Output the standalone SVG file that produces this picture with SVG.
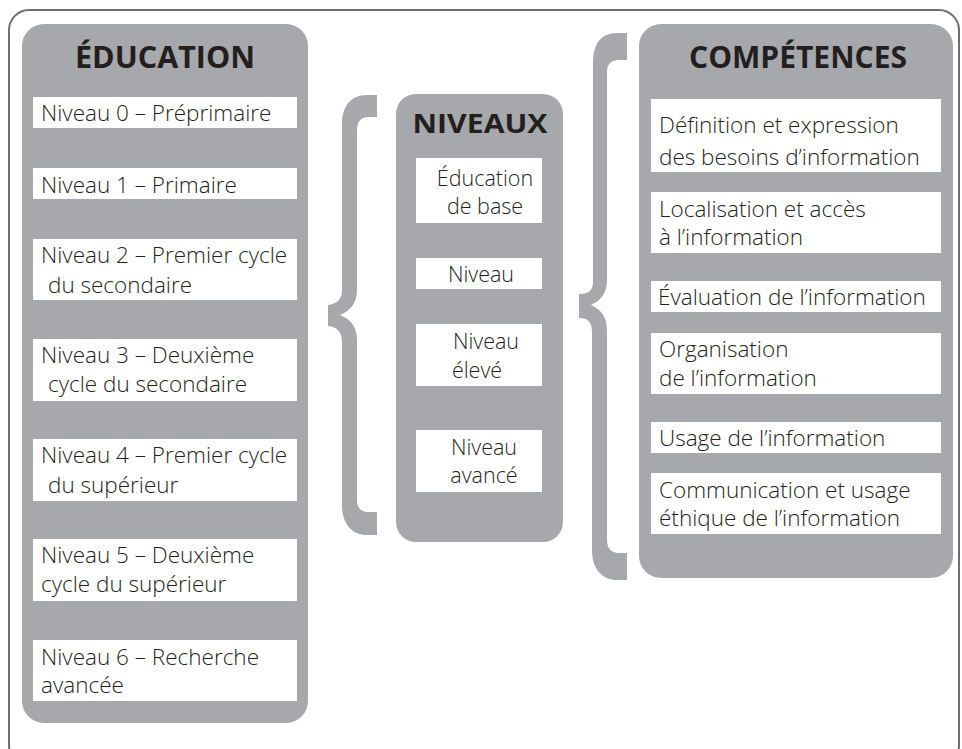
<svg xmlns="http://www.w3.org/2000/svg" width="962" height="749" viewBox="0 0 962 749">
<style>
.panel{fill:#a7a8ab}
.box{fill:#ffffff}
.brace{fill:#a7a8ab}
.t{font-family:"Open Sans","Liberation Sans",sans-serif;font-size:22.5px;font-weight:300;fill:#231f20}
.n{font-size:21.5px}
.h{font-family:"Open Sans","Liberation Sans",sans-serif;font-weight:bold;fill:#231f20;text-anchor:middle}
.c{text-anchor:middle}
</style>
<rect x="9" y="10" width="950" height="755" rx="20" ry="20" fill="#ffffff" stroke="#6d6e71" stroke-width="2"/>
<g id="education">
<rect class="panel" x="22" y="24" width="286" height="699" rx="22" ry="22"/>
<text class="h" x="165" y="68" font-size="30.5">ÉDUCATION</text>
<rect class="box" x="33" y="97" width="264" height="31"/>
<text class="t" x="41" y="121">Niveau 0 – Préprimaire</text>
<rect class="box" x="33" y="168" width="264" height="31"/>
<text class="t" x="41" y="193">Niveau 1 – Primaire</text>
<rect class="box" x="33" y="239" width="264" height="61"/>
<text class="t" x="41" y="263">Niveau 2 – Premier cycle</text>
<text class="t" x="48" y="293">du secondaire</text>
<rect class="box" x="33" y="339" width="264" height="62"/>
<text class="t" x="41" y="363">Niveau 3 – Deuxième</text>
<text class="t" x="48" y="392">cycle du secondaire</text>
<rect class="box" x="33" y="439" width="264" height="62"/>
<text class="t" x="41" y="463">Niveau 4 – Premier cycle</text>
<text class="t" x="48" y="493">du supérieur</text>
<rect class="box" x="33" y="539" width="264" height="62"/>
<text class="t" x="41" y="563">Niveau 5 – Deuxième</text>
<text class="t" x="41" y="592">cycle du supérieur</text>
<rect class="box" x="33" y="640" width="264" height="61"/>
<text class="t" x="41" y="665">Niveau 6 – Recherche</text>
<text class="t" x="41" y="693">avancée</text>
</g>
<g id="connectors">
<path class="brace" d="M377,95 L367,95 C351,95 342,106 342,124 L342,290 C342,299 337,304 328,305 L328,326 C337,327 342,332 342,342 L342,505 C342,524 352,535 367,535 L377,535 L377,512 L368,512 C361,512 357,508 357,500 L357,340 C357,326 350,319 340,315 C350,311 357,303 357,290 L357,130 C357,122 361,117 368,117 L377,117 Z"/>
<path class="brace" d="M627,33 L617,33 C601,33 593,44 593,62 L593,282 C593,291 588,294 579,294 L579,318 C588,318 592,322 592,332 L592,550 C592,570 603,580 617,580 L627,580 L627,553 L619,553 C611,553 607,548 607,540 L607,330 C607,316 600,309 591,305 C600,301 607,294 607,280 L607,72 C607,64 611,60 619,60 L627,60 Z"/>
</g>
<g id="niveaux">
<rect class="panel" x="396" y="94" width="167" height="448" rx="20" ry="20"/>
<text class="h" x="480" y="133" font-size="27" textLength="135" lengthAdjust="spacingAndGlyphs">NIVEAUX</text>
<rect class="box" x="416" y="158" width="126" height="65"/>
<text class="t n c" x="485" y="186">Éducation</text>
<text class="t n c" x="485" y="214">de base</text>
<rect class="box" x="416" y="258" width="126" height="31"/>
<text class="t n c" x="481" y="282">Niveau</text>
<rect class="box" x="416" y="324" width="126" height="62"/>
<text class="t n c" x="486" y="349">Niveau</text>
<text class="t n c" x="477" y="378">élevé</text>
<rect class="box" x="416" y="430" width="126" height="62"/>
<text class="t n c" x="484" y="455">Niveau</text>
<text class="t n c" x="484" y="483">avancé</text>
</g>
<g id="competences">
<rect class="panel" x="639" y="24" width="314" height="554" rx="22" ry="22"/>
<text class="h" x="798" y="68" font-size="30">COMPÉTENCES</text>
<rect class="box" x="651" y="99" width="290" height="73"/>
<text class="t" x="659" y="133">Définition et expression</text>
<text class="t" x="659" y="165">des besoins d’information</text>
<rect class="box" x="651" y="192" width="290" height="61"/>
<text class="t" x="659" y="217">Localisation et accès</text>
<text class="t" x="659" y="245">à l’information</text>
<rect class="box" x="651" y="281" width="290" height="31"/>
<text class="t" x="658" y="305">Évaluation de l’information</text>
<rect class="box" x="651" y="333" width="290" height="61"/>
<text class="t" x="659" y="357">Organisation</text>
<text class="t" x="659" y="386">de l’information</text>
<rect class="box" x="651" y="422" width="290" height="31"/>
<text class="t" x="659" y="446">Usage de l’information</text>
<rect class="box" x="651" y="473" width="290" height="61"/>
<text class="t" x="659" y="498">Communication et usage</text>
<text class="t" x="659" y="526">éthique de l’information</text>
</g>
</svg>
